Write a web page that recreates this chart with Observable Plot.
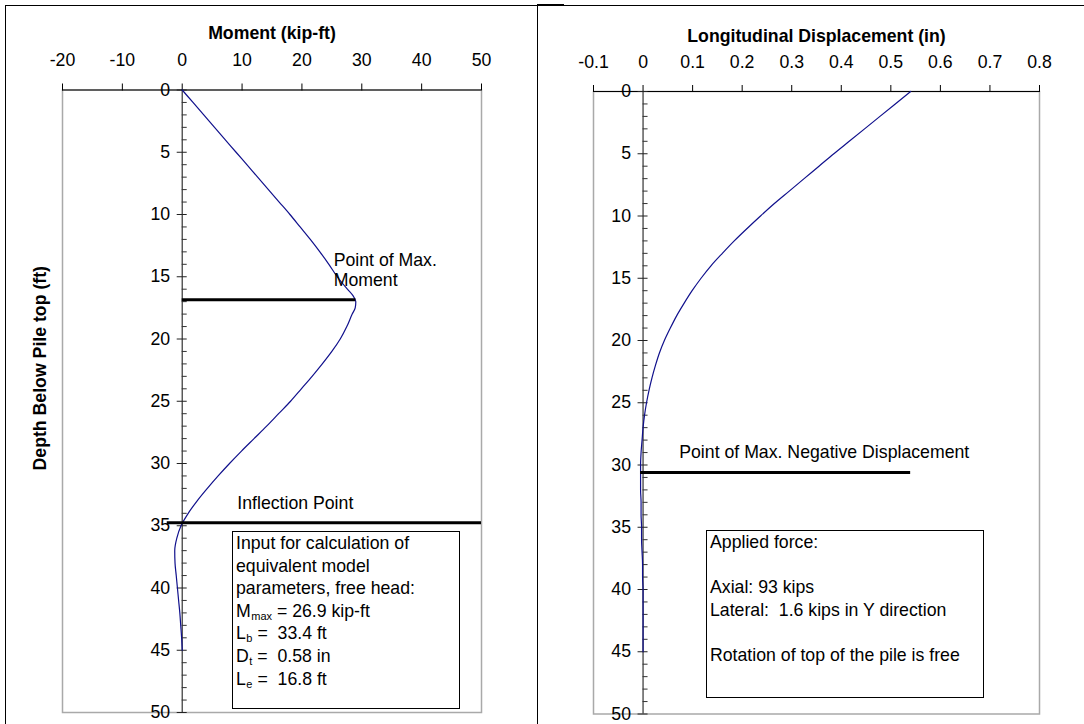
<!DOCTYPE html>
<html><head><meta charset="utf-8">
<script src="https://cdn.jsdelivr.net/npm/d3@7"></script>
<script src="https://cdn.jsdelivr.net/npm/@observablehq/plot@0.6"></script>
<style>
html,body{margin:0;padding:0;background:#fff;}
body{width:1084px;height:724px;position:relative;overflow:hidden;font-family:Arial,"Liberation Sans",sans-serif;color:#000;}
.panel{position:absolute;top:0;}
.frame{position:absolute;box-sizing:border-box;border:0 solid #000;}
.box{position:absolute;box-sizing:border-box;border:1px solid #000;background:#fff;font-size:17.7px;line-height:22.6px;padding:0 0 0 3px;white-space:pre;}
.box sub{font-size:11px;line-height:1;vertical-align:baseline;position:relative;top:3px;margin-left:0.5px;}
</style></head><body>
<div class="frame" style="left:5px;top:5px;width:533px;height:800px;border-left-width:1px;border-top-width:1px;border-right-width:1px;"></div>
<div class="frame" style="left:537px;top:5px;width:600px;height:800px;border-top-width:1px;"></div>
<div class="frame" style="left:537px;top:4px;width:27px;height:2px;background:#000;"></div>
<div id="left" class="panel" style="left:0px"></div>
<div id="right" class="panel" style="left:537px"></div>
<div class="box" style="left:232px;top:531px;width:228px;height:178px;">Input for calculation of
equivalent model
parameters, free head:
M<sub>max</sub> = 26.9 kip-ft
L<sub>b</sub> =  33.4 ft
D<sub>t</sub> =  0.58 in
L<sub>e</sub> =  16.8 ft</div>
<div class="box" style="left:706px;top:530px;width:278px;height:168px;">Applied force:

Axial: 93 kips
Lateral:  1.6 kips in Y direction

Rotation of top of the pile is free</div>
<script>
// ---- data ----
const depthMajor = [0, 5, 10, 15, 20, 25, 30, 35, 40, 45, 50];
const depthMinor = [1,2,3,4,6,7,8,9,11,12,13,14,16,17,18,19,21,22,23,24,26,27,28,29,31,32,33,34,36,37,38,39,41,42,43,44,46,47,48,49];
const momentTicks = [-20, -10, 0, 10, 20, 30, 40, 50];
const dispTicks = [-0.1, 0, 0.1, 0.2, 0.3, 0.4, 0.5, 0.6, 0.7, 0.8];

const momentDepth = [0,1,2,3,4,5,6,7,8,9,10,11,12,13,14,15,16,16.5,17,17.5,18,19,20,21,22,23,24,25,26,27,28,29,30,31,32,33,34,35,36,37,38,39,40,41,42,43,44,45];
const momentValue = [0,1.8,3.6,5.4,7.2,9.0,10.8,12.6,14.4,16.2,18.0,19.7,21.4,23.0,24.5,25.9,27.6,28.5,29.0,28.9,28.4,27.5,26.4,25.0,23.4,21.7,19.9,18.1,16.1,14.1,12.0,9.9,7.9,6.0,4.2,2.5,1.0,-0.2,-0.9,-1.25,-1.2,-1.0,-0.8,-0.6,-0.4,-0.25,-0.1,0];

const dispDepth = [0,1,2,3,4,5,6,7,8,9,10,11,12,13,14,15,16,17,18,19,20,21,22,23,24,25,26,27,28,29,30,31,32,33,34,35,36,37,38,39,40,41,42,43,44,45];
const dispValue = [0.540,0.509,0.478,0.447,0.416,0.385,0.355,0.325,0.295,0.265,0.237,0.210,0.184,0.160,0.137,0.117,0.099,0.083,0.068,0.055,0.043,0.033,0.025,0.018,0.012,0.007,0.003,0.000,-0.002,-0.004,-0.005,-0.005,-0.005,-0.004,-0.004,-0.003,-0.003,-0.002,-0.001,-0.001,0,0,0,0,0,0];

const maxMomentDepth = 16.85, maxMomentValue = 29.0;
const inflectionDepth = 34.75;
const maxNegDispDepth = 30.6, maxDispValue = 0.54;

const momentRows = momentDepth.map((d, i) => ({d, v: momentValue[i]}));
const dispRows = dispDepth.map((d, i) => ({d, v: dispValue[i]}));

const FONT = "Arial, 'Liberation Sans', sans-serif";
const FS = "17.7px";
const CURVE = "#10108c";

function panel({width, height, mL, mR, mT, mB, xDomain, xTicks, pxPerUnit, rows, extra, xTitle, titleDy, yTitle}) {
  const u = 1 / pxPerUnit; // one pixel in x data units
  const marks = [
    Plot.frame({stroke: "#a9a9a9", strokeWidth: 1.5}),
    Plot.ruleY([0], {stroke: "#000", strokeWidth: 1.2}),
    Plot.axisX(xTicks, {anchor: "top", tickSize: 7, tickPadding: 17, label: null, tickFormat: d => String(d), stroke: "#000"}),
    Plot.text([xTitle], {frameAnchor: "top", dy: titleDy, lineAnchor: "middle", textAnchor: "middle", fontWeight: "bold"}),
    Plot.ruleX([0], {stroke: "#333", strokeWidth: 1.2}),
    Plot.ruleY(depthMajor, {y: d => d, x1: -5 * u, x2: 5 * u, stroke: "#222"}),
    Plot.ruleY(depthMinor, {y: d => d, x1: 0, x2: 5 * u, stroke: "#333"}),
    Plot.text(depthMajor, {x: 0, y: d => d, text: d => String(d), textAnchor: "end", dx: -12}),
    Plot.line(rows, {x: "v", y: "d", stroke: CURVE, strokeWidth: 1.2, curve: "monotone-y"}),
    ...extra
  ];
  if (yTitle) marks.push(Plot.text([yTitle], {frameAnchor: "left", dx: -22, dy: -33, rotate: -90, textAnchor: "middle", lineAnchor: "middle", fontWeight: "bold"}));
  return Plot.plot({
    width, height,
    marginLeft: mL, marginRight: mR, marginTop: mT, marginBottom: mB,
    x: {domain: xDomain},
    y: {domain: [0, 50], reverse: true, axis: null},
    style: {fontFamily: FONT, fontSize: FS, color: "#000", background: "transparent", overflow: "visible"},
    marks
  });
}

const leftPlot = panel({
  width: 537, height: 724, mL: 62, mR: 56, mT: 89.5, mB: 12,
  xDomain: [-20, 50], xTicks: momentTicks, pxPerUnit: 419 / 70,
  rows: momentRows, titleDy: -57,
  xTitle: "Moment (kip-ft)", yTitle: "Depth Below Pile top (ft)",
  extra: [
    Plot.ruleY([maxMomentDepth], {x1: 0, x2: maxMomentValue, stroke: "#000", strokeWidth: 3}),
    Plot.ruleY([inflectionDepth], {x1: -2.5, x2: 50, stroke: "#000", strokeWidth: 3}),
    Plot.text(["Point of Max.\nMoment"], {x: 25.3, y: 14.4, textAnchor: "start", lineHeight: 1.13}),
    Plot.text(["Inflection Point"], {x: 9.2, y: 33.2, textAnchor: "start"})
  ]
});
document.getElementById("left").appendChild(leftPlot);

const rightPlot = panel({
  width: 547, height: 724, mL: 56, mR: 45, mT: 91, mB: 10.5,
  xDomain: [-0.1, 0.8], xTicks: dispTicks, pxPerUnit: 446 / 0.9,
  rows: dispRows, titleDy: -55,
  xTitle: "Longitudinal Displacement (in)", yTitle: null,
  extra: [
    Plot.ruleY([maxNegDispDepth], {x1: -0.005, x2: maxDispValue, stroke: "#000", strokeWidth: 3}),
    Plot.text(["Point of Max. Negative Displacement"], {x: 0.073, y: 29.0, textAnchor: "start"})
  ]
});
document.getElementById("right").appendChild(rightPlot);
</script>
</body></html>
